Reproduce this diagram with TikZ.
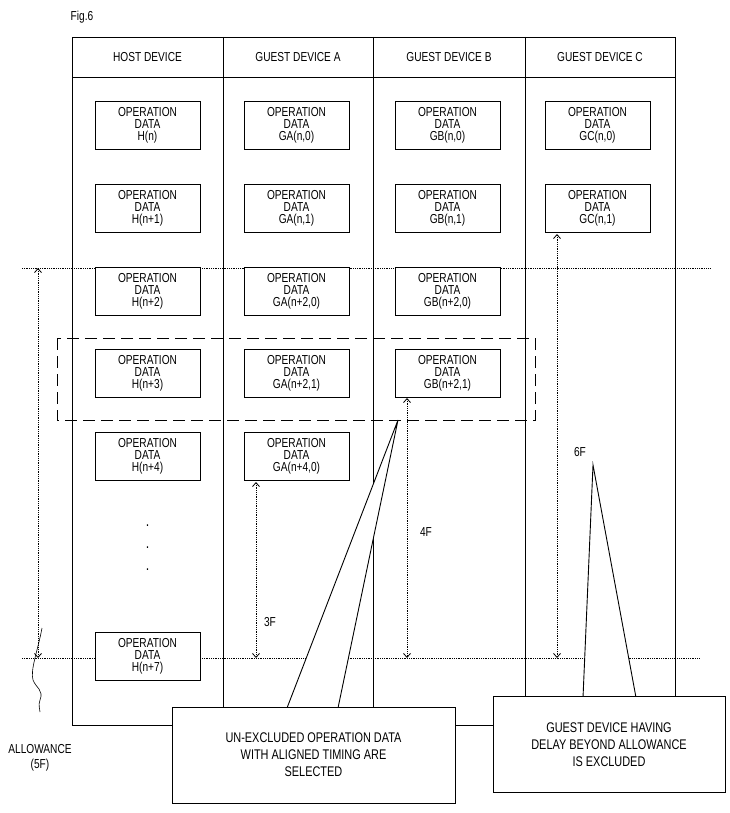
\documentclass[tikz,border=0pt]{standalone}
\usepackage{fontspec}
\setmainfont{Liberation Sans}[FakeStretch=0.78]
\usetikzlibrary{arrows.meta}
\begin{document}
\begin{tikzpicture}[x=1pt,y=-1pt,
  txt/.style={font=\fontsize{13}{12}\selectfont,align=center,inner sep=0pt},
  op/.style={draw,fill=white,minimum width=105pt,minimum height=48pt,txt,line width=0.9pt},
  call/.style={draw,fill=white,txt,font=\fontsize{14}{17}\selectfont,line width=0.9pt},
  dot/.style={densely dotted,line width=0.8pt},
  darr/.style={dot,{Straight Barb[length=4pt,width=7pt]}-{Straight Barb[length=4pt,width=7pt]}},
  lw/.style={line width=0.9pt}]
\useasboundingbox (0,0) rectangle (730,813);
\node[txt] (fig) at (82,17) {Fig.6};
% frame
\draw[lw] (72,725) -- (72,37) -- (675,37) -- (675,697);
\draw[lw] (72,77) -- (675,77);
\draw[lw] (223,37) -- (223,707);
\draw[lw] (373,37) -- (373,707);
\draw[lw] (525,37) -- (525,697);
\draw[lw] (72,725) -- (172,725);
\draw[lw] (455,725) -- (493,725);
\node[txt] (h0) at (147.5,57) {HOST DEVICE};
\node[txt] (h1) at (298,57) {GUEST DEVICE A};
\node[txt] (h2) at (449,57) {GUEST DEVICE B};
\node[txt] (h3) at (600,57) {GUEST DEVICE C};
% dotted lines
\draw[dot] (22,268) -- (710,268);
\draw[dot] (22,658) -- (700,658);
\draw[lw,dash pattern=on 12pt off 6pt] (57,338) rectangle (535,420);
% boxes
\node[op] (H0) at (147.5,125) {OPERATION\\DATA\\H(n)};
\node[op] (H1) at (147.5,208) {OPERATION\\DATA\\H(n+1)};
\node[op] (H2) at (147.5,291) {OPERATION\\DATA\\H(n+2)};
\node[op] (H3) at (147.5,373) {OPERATION\\DATA\\H(n+3)};
\node[op] (H4) at (147.5,456) {OPERATION\\DATA\\H(n+4)};
\node[op] (H7) at (147.5,656) {OPERATION\\DATA\\H(n+7)};
\node[op] (A0) at (296.5,125) {OPERATION\\DATA\\GA(n,0)};
\node[op] (A1) at (296.5,208) {OPERATION\\DATA\\GA(n,1)};
\node[op] (A2) at (296.5,291) {OPERATION\\DATA\\GA(n+2,0)};
\node[op] (A3) at (296.5,373) {OPERATION\\DATA\\GA(n+2,1)};
\node[op] (A4) at (296.5,456) {OPERATION\\DATA\\GA(n+4,0)};
\node[op] (B0) at (447.5,125) {OPERATION\\DATA\\GB(n,0)};
\node[op] (B1) at (447.5,208) {OPERATION\\DATA\\GB(n,1)};
\node[op] (B2) at (447.5,291) {OPERATION\\DATA\\GB(n+2,0)};
\node[op] (B3) at (447.5,373) {OPERATION\\DATA\\GB(n+2,1)};
\node[op] (C0) at (597.5,125) {OPERATION\\DATA\\GC(n,0)};
\node[op] (C1) at (597.5,208) {OPERATION\\DATA\\GC(n,1)};
\node[txt,font=\fontsize{16}{16}\selectfont] (vd) at (147.5,548) {.\\[6pt].\\[6pt].};
% arrows
\coordinate (a1) at (38,268); \coordinate (a2) at (38,658);
\draw[darr] (a1) -- (a2);
\coordinate (g1) at (256,658); \draw[darr] (256,482) -- (g1);
\coordinate (g2) at (407,658); \draw[darr] (407,398) -- (g2);
\coordinate (g3) at (557,658); \draw[darr] (557,234) -- (g3);
\node[txt] (l3) at (270,622) {3F};
\node[txt] (l4) at (426,532) {4F};
\node[txt] (l6) at (580,452) {6F};
% allowance brace
\draw[line width=0.6pt] (42,628) .. controls (38,650) and (30,670) .. (33,680) .. controls (36,688) and (44,690) .. (40,700) .. controls (38,705) and (40,710) .. (40,712);
\node[txt,font=\fontsize{13}{15}\selectfont] (al) at (40,758) {ALLOWANCE\\(5F)};
% callouts
\draw[lw,fill=white] (287,708) -- (398,420) -- (338,708) -- cycle;
\node[call,minimum width=283pt,minimum height=96pt] (c1) at (313.5,755) {UN-EXCLUDED OPERATION DATA\\WITH ALIGNED TIMING ARE\\SELECTED};
\draw[lw,fill=white] (583,697.5) -- (593,465) -- (636,697.5) -- cycle;
\node[call,minimum width=232pt,minimum height=96pt] (c2) at (609,744.5) {GUEST DEVICE HAVING\\DELAY BEYOND ALLOWANCE\\IS EXCLUDED};
\end{tikzpicture}
\end{document}
